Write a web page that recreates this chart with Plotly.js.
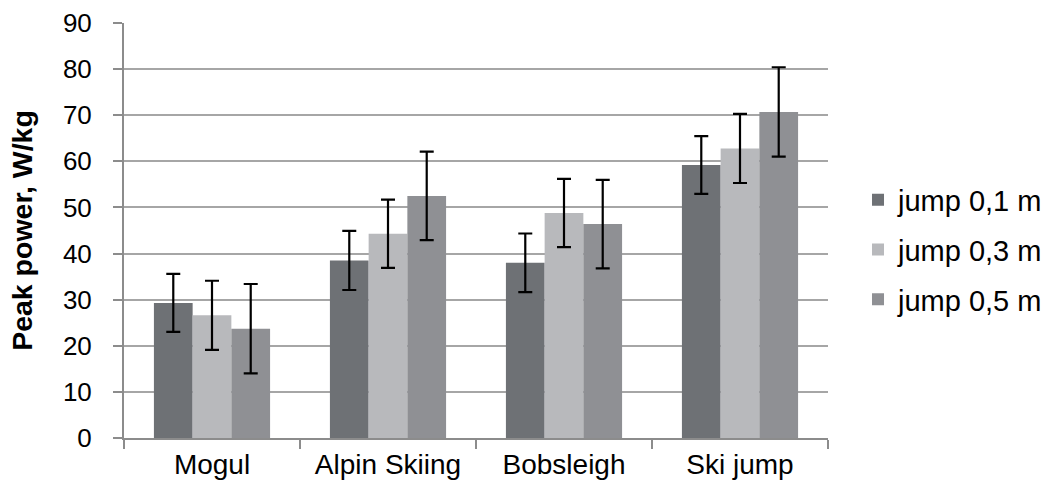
<!DOCTYPE html>
<html>
<head>
<meta charset="utf-8">
<script src="https://cdn.plot.ly/plotly-3.0.1.min.js"></script>
<style>html,body{margin:0;padding:0;background:#fff;}#chart{width:1052px;height:494px;}</style>
</head>
<body>
<div id="chart"></div>
<script>
const categories = ["Mogul", "Alpin Skiing", "Bobsleigh", "Ski jump"];
const seriesNames = ["jump 0,1 m", "jump 0,3 m", "jump 0,5 m"];
const jump01 = [29.3, 38.5, 38.0, 59.2];
const jump03 = [26.6, 44.3, 48.8, 62.8];
const jump05 = [23.7, 52.5, 46.4, 70.7];
const err01 = [6.3, 6.4, 6.35, 6.25];
const err03 = [7.5, 7.4, 7.4, 7.5];
const err05 = [9.7, 9.6, 9.6, 9.7];
const yTicks = [0, 10, 20, 30, 40, 50, 60, 70, 80, 90];

const colors = ["#6e7175", "#b8b9bc", "#8f9094"];
const values = [jump01, jump03, jump05];
const errs = [err01, err03, err05];

const traces = values.map((v, i) => ({
  type: "bar",
  name: seriesNames[i],
  legendgroup: "g" + i,
  x: categories,
  y: v,
  marker: {color: colors[i], line: {width: 0}},
  error_y: {type: "data", array: errs[i], visible: true, color: "#000", thickness: 2.2, width: 7}
}));

const layout = {
  width: 1052, height: 494,
  paper_bgcolor: "#fff", plot_bgcolor: "#fff",
  font: {family: "Liberation Sans, Arial, sans-serif", size: 26, color: "#000"},
  margin: {l: 124, r: 224, t: 23, b: 56},
  barmode: "group",
  bargap: 0.34,
  bargroupgap: 0,
  showlegend: true,
  legend: {xref: "container", yref: "container", x: 0.8156, y: 0.494, xanchor: "left", yanchor: "middle",
           font: {size: 29}, bgcolor: "rgba(0,0,0,0)", traceorder: "grouped", tracegroupgap: 9, itemwidth: 30},
  xaxis: {
    type: "category",
    tickson: "boundaries",
    ticks: "outside", ticklen: 9, tickwidth: 2, tickcolor: "#8c8c8c",
    showline: true, linecolor: "#8c8c8c", linewidth: 2,
    showgrid: false, zeroline: false,
    tickfont: {size: 28}
  },
  yaxis: {
    range: [0, 90],
    tickvals: yTicks,
    ticks: "outside", ticklen: 9, tickwidth: 2, tickcolor: "#8c8c8c",
    showline: true, linecolor: "#8c8c8c", linewidth: 2,
    showgrid: true, gridcolor: "#a6a6a6", gridwidth: 2,
    zeroline: false,
    ticklabelstandoff: 16,
    tickfont: {size: 26},
    title: {text: "<b>Peak power, W/kg</b>", font: {size: 28.5}, standoff: 22}
  }
};

Plotly.newPlot("chart", traces, layout, {displayModeBar: false, staticPlot: true});
</script>
</body>
</html>
